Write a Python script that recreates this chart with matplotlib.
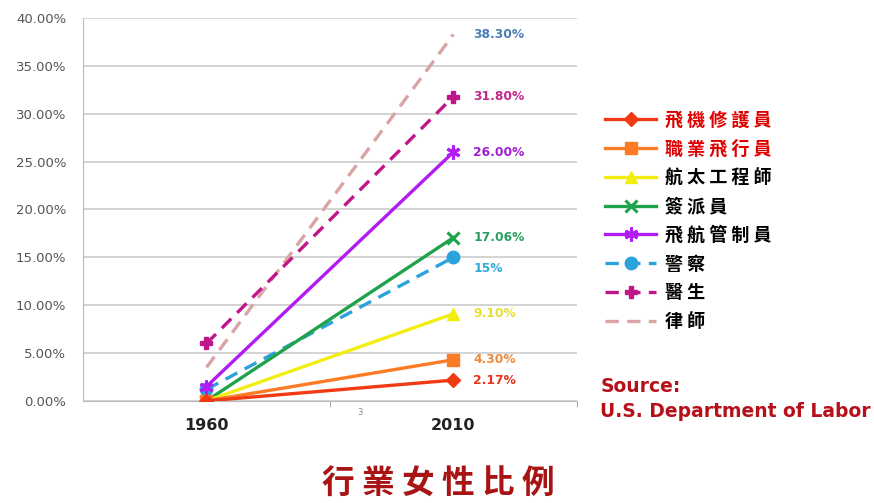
import matplotlib.pyplot as plt
from matplotlib.ticker import FuncFormatter

plt.rcParams['font.family'] = ['DejaVu Sans']
cjk = ['Noto Sans CJK TC', 'DejaVu Sans']

years = ['1960', '2010']
jobs = ['飛機修護員', '職業飛行員', '航太工程師', '簽派員', '飛航管制員', '警察', '醫生', '律師']
v1960 = [0.0, 0.0, 0.0, 0.0, 1.5, 1.2, 6.0, 3.5]
v2010 = [2.17, 4.30, 9.10, 17.06, 26.00, 15.0, 31.80, 38.30]
end_labels = ['2.17%', '4.30%', '9.10%', '17.06%', '26.00%', '15%', '31.80%', '38.30%']

colors = ['#f03a14', '#fb7b26', '#f4ee10', '#1ea24a', '#b31cf0', '#2aa2dc', '#c0168a', '#d9a4a4']
label_colors = ['#e8341a', '#f08a3a', '#e8e030', '#2aa060', '#a020d0', '#30a8d8', '#c0288c', '#4a7fb5']
styles = ['-', '-', '-', '-', '-', '--', '--', '--']
markers = ['D', 's', '^', 'x', (6, 2, 0), 'o', 'P', None]
msizes = [7, 9, 8, 9, 10, 9, 9, 0]
legend_text_colors = ['#e00000', '#e00000', 'black', 'black', 'black', 'black', 'black', 'black']

fig = plt.figure(figsize=(8.74, 5.03), dpi=100)
ax = fig.add_axes([0.095, 0.203, 0.565, 0.761])

xs = [0, 1]
handles = []
for i in range(len(jobs)):
    ln, = ax.plot(xs, [v1960[i], v2010[i]], color=colors[i], linestyle=styles[i],
                  linewidth=2.4, marker=markers[i], markersize=msizes[i],
                  markeredgewidth=2.2 if markers[i] in ('x', (6, 2, 0)) else 1,
                  dashes=(4, 2.5) if styles[i] == '--' else (None, None),
                  zorder=3 + (8 - i) * 0.1)
    handles.append(ln)
    dy = {5: -1.2, 1: 0.0}.get(i, 0.0)
    ax.text(1.08, v2010[i] + dy, end_labels[i], color=label_colors[i], fontsize=8.8,
            fontweight='bold', va='center', ha='left')

ax.set_xlim(-0.5, 1.5)
ax.set_ylim(0, 40)
ax.set_yticks(range(0, 41, 5))
ax.yaxis.set_major_formatter(FuncFormatter(lambda v, p: f'{v:.2f}%'))
ax.set_xticks(xs)
ax.set_xticklabels(years, fontsize=11.5, fontweight='bold', color='#222222')
ax.set_xticks([0.5, 1.5], minor=True)
ax.tick_params(axis='x', which='major', length=0, pad=12)
ax.tick_params(axis='x', which='minor', length=4, color='#999999')
ax.tick_params(axis='y', length=0, labelsize=9.5, labelcolor='#555555', pad=12)
ax.grid(axis='y', color='#cccccc', linewidth=1.2)
ax.set_axisbelow(True)
for s in ['top', 'right']:
    ax.spines[s].set_visible(False)
ax.spines['left'].set_color('#bbbbbb')
ax.spines['bottom'].set_color('#bbbbbb')
ax.text(0.62, -1.2, '3', fontsize=6, color='#888888', ha='center', va='center')

shown = [' '.join(j) for j in jobs]
leg = fig.legend(handles, shown, loc='upper left', bbox_to_anchor=(0.674, 0.812),
                 frameon=False, handlelength=2.8, handletextpad=0.5, labelspacing=0.54,
                 prop={'family': cjk, 'size': 13, 'weight': 'bold'})
for t, c in zip(leg.get_texts(), legend_text_colors):
    t.set_color(c)

fig.text(0.687, 0.22, 'Source:', color='#b8101a', fontsize=13.5, fontweight='bold')
fig.text(0.687, 0.17, 'U.S. Department of Labor', color='#b8101a', fontsize=13.5, fontweight='bold')
fig.text(0.502, 0.038, ' '.join('行業女性比例'), color='#a81414', fontsize=23.5, fontweight='bold',
         ha='center', va='center', family=cjk)

fig.savefig('out.png', dpi=100)
